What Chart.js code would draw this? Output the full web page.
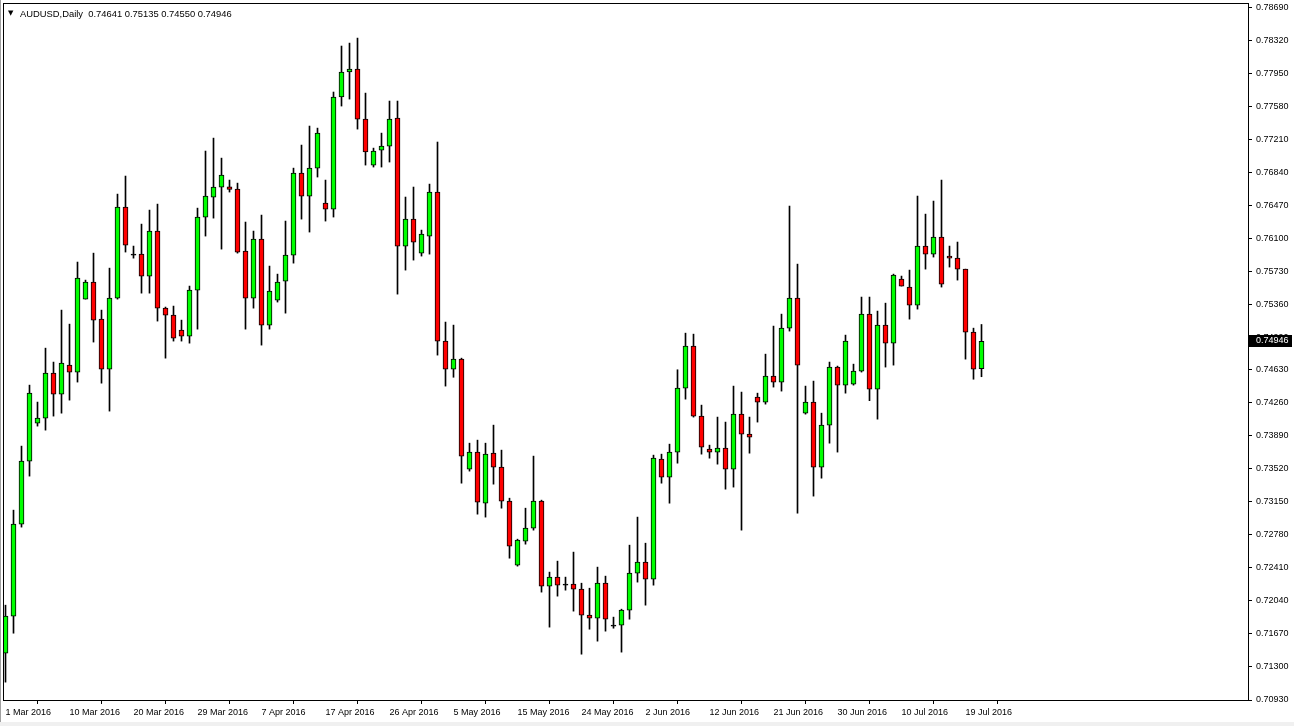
<!DOCTYPE html>
<html><head><meta charset="utf-8">
<script src="https://cdn.jsdelivr.net/npm/chart.js@4.4.1/dist/chart.umd.min.js"></script>
<style>
html,body{margin:0;padding:0;background:#fff;}
#wrap{position:relative;width:1294px;height:726px;overflow:hidden;background:#fff;}
canvas{position:absolute;left:0;top:0;}
#tri{position:absolute;left:8px;top:8px;font:7px "DejaVu Sans",sans-serif;line-height:11px;color:#000;}
#title{position:absolute;left:20px;top:8px;font:9.4px "Liberation Sans",Arial,sans-serif;line-height:11px;color:#000;white-space:pre;}
#edgeL{position:absolute;left:0;top:0;width:1px;height:726px;background:#a0a0a0;}
#edgeB{position:absolute;left:0;top:722px;width:1294px;height:4px;background:#f0f0f0;}
</style></head><body>
<div id="wrap"><canvas id="c" width="1294" height="726"></canvas><div id="tri">▼</div><div id="title"></div><div id="edgeL"></div><div id="edgeB"></div></div>
<script>
const symbolName = 'AUDUSD,Daily';
const dates = [
'1 Mar 2016','2 Mar 2016','3 Mar 2016','4 Mar 2016','6 Mar 2016','7 Mar 2016','8 Mar 2016','9 Mar 2016','10 Mar 2016','11 Mar 2016',
'13 Mar 2016','14 Mar 2016','15 Mar 2016','16 Mar 2016','17 Mar 2016','18 Mar 2016','20 Mar 2016','21 Mar 2016','22 Mar 2016','23 Mar 2016',
'24 Mar 2016','25 Mar 2016','27 Mar 2016','28 Mar 2016','29 Mar 2016','30 Mar 2016','31 Mar 2016',
'1 Apr 2016','3 Apr 2016','4 Apr 2016','5 Apr 2016','6 Apr 2016','7 Apr 2016','8 Apr 2016','10 Apr 2016','11 Apr 2016','12 Apr 2016',
'13 Apr 2016','14 Apr 2016','15 Apr 2016','17 Apr 2016','18 Apr 2016','19 Apr 2016','20 Apr 2016','21 Apr 2016','22 Apr 2016','24 Apr 2016',
'25 Apr 2016','26 Apr 2016','27 Apr 2016','28 Apr 2016','29 Apr 2016',
'1 May 2016','2 May 2016','3 May 2016','4 May 2016','5 May 2016','6 May 2016','8 May 2016','9 May 2016','10 May 2016','11 May 2016',
'12 May 2016','13 May 2016','15 May 2016','16 May 2016','17 May 2016','18 May 2016','19 May 2016','20 May 2016','22 May 2016','23 May 2016',
'24 May 2016','25 May 2016','26 May 2016','27 May 2016','29 May 2016','30 May 2016','31 May 2016',
'1 Jun 2016','2 Jun 2016','3 Jun 2016','5 Jun 2016','6 Jun 2016','7 Jun 2016','8 Jun 2016','9 Jun 2016','10 Jun 2016','12 Jun 2016',
'13 Jun 2016','14 Jun 2016','15 Jun 2016','16 Jun 2016','17 Jun 2016','19 Jun 2016','20 Jun 2016','21 Jun 2016','22 Jun 2016','23 Jun 2016',
'24 Jun 2016','26 Jun 2016','27 Jun 2016','28 Jun 2016','29 Jun 2016','30 Jun 2016',
'1 Jul 2016','3 Jul 2016','4 Jul 2016','5 Jul 2016','6 Jul 2016','7 Jul 2016','8 Jul 2016','10 Jul 2016','11 Jul 2016','12 Jul 2016',
'13 Jul 2016','14 Jul 2016','15 Jul 2016','17 Jul 2016','18 Jul 2016','19 Jul 2016','20 Jul 2016','21 Jul 2016'
];
const openP = [
0.71454,0.71869,0.72899,0.73605,0.74030,0.74086,0.74590,0.74355,0.74680,0.74602,
0.75419,0.75610,0.75195,0.74635,0.75430,0.76450,0.75912,0.75923,0.75677,0.76181,
0.75318,0.75240,0.75072,0.75005,0.75520,0.76338,0.76562,0.76674,0.76677,0.76651,
0.75957,0.75430,0.76091,0.75128,0.75408,0.75621,0.75912,0.76830,0.76573,0.76886,
0.76494,0.76427,0.77682,0.77962,0.77995,0.77435,0.76920,0.77088,0.77133,0.77446,
0.76013,0.76315,0.75934,0.76125,0.76618,0.74949,0.74635,0.74747,0.73515,0.73706,
0.73134,0.73694,0.73538,0.73157,0.72440,0.72709,0.72855,0.73157,0.72205,0.72306,
0.72216,0.72227,0.72171,0.71880,0.71846,0.72238,0.71757,0.71768,0.71936,0.72350,
0.72474,0.72283,0.73627,0.73426,0.73706,0.74422,0.74893,0.74109,0.73739,0.73706,
0.73750,0.73515,0.74131,0.73907,0.74322,0.74266,0.74557,0.74490,0.75094,0.75430,
0.74142,0.74266,0.73538,0.74008,0.74658,0.74456,0.74467,0.74613,0.75251,0.74411,
0.75128,0.74926,0.75643,0.75554,0.75352,0.76013,0.75923,0.76114,0.75901,0.75878,
0.75755,0.75050,0.74641
];
const highP = [
0.71992,0.73056,0.73773,0.74456,0.74266,0.74870,0.74714,0.75296,0.75139,0.75834,
0.75632,0.75934,0.75296,0.75766,0.76595,0.76797,0.76013,0.76259,0.76416,0.76483,
0.75330,0.75341,0.75184,0.75565,0.76438,0.77077,0.77222,0.76998,0.76752,0.76718,
0.76282,0.76181,0.76360,0.75789,0.75699,0.76293,0.76886,0.77144,0.77357,0.77334,
0.76752,0.77738,0.78253,0.78286,0.78342,0.77726,0.77110,0.77278,0.77637,0.77637,
0.76562,0.76674,0.76192,0.76707,0.77178,0.75162,0.75128,0.74758,0.73806,0.73840,
0.73806,0.74008,0.73728,0.73190,0.72731,0.73078,0.73661,0.73168,0.72362,0.72485,
0.72306,0.72586,0.72238,0.72182,0.72418,0.72317,0.71858,0.71947,0.72664,0.72978,
0.72686,0.73672,0.73683,0.73795,0.74628,0.75038,0.75027,0.74232,0.73784,0.74098,
0.74042,0.74445,0.74378,0.74098,0.74366,0.74803,0.75117,0.75251,0.76461,0.75811,
0.74445,0.74501,0.74142,0.74714,0.74669,0.75016,0.74691,0.75442,0.75442,0.75285,
0.75374,0.75699,0.75677,0.75744,0.76573,0.76371,0.76517,0.76752,0.76013,0.76058,
0.75755,0.75094,0.75135
];
const lowP = [
0.71130,0.71678,0.72866,0.73437,0.73997,0.73952,0.74109,0.74142,0.74288,0.74490,
0.75419,0.74938,0.74478,0.74165,0.75419,0.75946,0.75878,0.75486,0.75486,0.75173,
0.74758,0.74949,0.74949,0.74926,0.75083,0.76125,0.76326,0.75979,0.76618,0.75934,
0.75083,0.75318,0.74904,0.75083,0.75386,0.75262,0.75822,0.76315,0.76170,0.76786,
0.76293,0.76338,0.77581,0.77659,0.77323,0.76920,0.76898,0.76898,0.76954,0.75475,
0.75744,0.75856,0.75901,0.75923,0.74792,0.74445,0.74544,0.73358,0.73493,0.73011,
0.72978,0.73347,0.73078,0.72518,0.72429,0.72675,0.72832,0.72138,0.71746,0.72093,
0.72160,0.71925,0.71443,0.71723,0.71589,0.71701,0.71734,0.71466,0.71835,0.72250,
0.71992,0.72216,0.73358,0.73134,0.73582,0.74299,0.74098,0.73683,0.73638,0.73571,
0.73291,0.73314,0.72832,0.73694,0.74042,0.74243,0.74434,0.74389,0.75061,0.73022,
0.74131,0.73213,0.73414,0.73806,0.73706,0.74366,0.74456,0.74602,0.74282,0.74075,
0.74658,0.74680,0.75565,0.75195,0.75307,0.75755,0.75890,0.75554,0.75778,0.75632,
0.74747,0.74522,0.74550
];
const closeP = [
0.71869,0.72899,0.73605,0.74366,0.74086,0.74590,0.74355,0.74702,0.74602,0.75654,
0.75610,0.75184,0.74635,0.75430,0.76450,0.76024,0.75912,0.75677,0.76181,0.75318,
0.75240,0.74982,0.75005,0.75520,0.76338,0.76573,0.76674,0.76808,0.76648,0.75946,
0.75430,0.76091,0.75128,0.75509,0.75610,0.75912,0.76830,0.76573,0.76886,0.77278,
0.76427,0.77682,0.77962,0.77995,0.77435,0.77066,0.77077,0.77133,0.77435,0.76013,
0.76315,0.76058,0.76147,0.76618,0.74949,0.74635,0.74747,0.73661,0.73706,0.73146,
0.73683,0.73538,0.73157,0.72653,0.72720,0.72855,0.73157,0.72205,0.72306,0.72216,
0.72216,0.72171,0.71880,0.71846,0.72238,0.71835,0.71757,0.71936,0.72350,0.72474,
0.72283,0.73638,0.73426,0.73706,0.74422,0.74893,0.74109,0.73762,0.73706,0.73750,
0.73515,0.74131,0.73907,0.73872,0.74266,0.74557,0.74490,0.75094,0.75430,0.74680,
0.74266,0.73538,0.74008,0.74658,0.74456,0.74949,0.74613,0.75251,0.74411,0.75128,
0.74926,0.75688,0.75565,0.75352,0.76013,0.75923,0.76114,0.75587,0.75878,0.75755,
0.75050,0.74635,0.74946
];
const xTickLabels = ['1 Mar 2016','10 Mar 2016','20 Mar 2016','29 Mar 2016','7 Apr 2016','17 Apr 2016','26 Apr 2016','5 May 2016',
'15 May 2016','24 May 2016','2 Jun 2016','12 Jun 2016','21 Jun 2016','30 Jun 2016','10 Jul 2016','19 Jul 2016'];
const yTickLabels = ['0.78690','0.78320','0.77950','0.77580','0.77210','0.76840','0.76470','0.76100','0.75730','0.75360','0.74990',
'0.74630','0.74260','0.73890','0.73520','0.73150','0.72780','0.72410','0.72040','0.71670','0.71300','0.70930'];

const last = dates.length - 1;
document.getElementById('title').textContent = symbolName + '  ' +
  [openP[last], highP[last], lowP[last], closeP[last]].map(v => v.toFixed(5)).join(' ');

const FONT = {family: "'Liberation Sans', Arial, sans-serif", size: 9};
const bodyData = dates.map((d, i) => ({x: i, y: [openP[i], closeP[i]]}));
const wickData = dates.map((d, i) => ({x: i, y: [lowP[i], highP[i]]}));
const bodyColors = dates.map((d, i) => closeP[i] > openP[i] ? '#00ff00' : (closeP[i] < openP[i] ? '#ff0000' : '#000000'));

const framePlugin = {
  id: 'frame',
  afterDraw(chart) {
    const {ctx, chartArea: a} = chart;
    ctx.save();
    ctx.strokeStyle = '#000';
    ctx.lineWidth = 1;
    ctx.strokeRect(a.left + 0.5, a.top + 0.5, a.right - a.left, a.bottom - a.top);
    const y = Math.round(chart.scales.y.getPixelForValue(closeP[last]));
    ctx.fillStyle = '#000';
    ctx.fillRect(a.right + 1, y - 6, 43, 12);
    ctx.fillStyle = '#fff';
    ctx.font = "9px 'Liberation Sans', Arial, sans-serif";
    ctx.textBaseline = 'middle';
    ctx.textAlign = 'left';
    ctx.fillText(closeP[last].toFixed(5), a.right + 8, y);
    ctx.restore();
  }
};

new Chart(document.getElementById('c'), {
  type: 'bar',
  data: {
    datasets: [
      {label: 'body', data: bodyData, backgroundColor: bodyColors, borderColor: '#000', borderWidth: 1,
       borderSkipped: false, barThickness: 5, minBarLength: 1, grouped: false, order: 0},
      {label: 'wick', data: wickData, backgroundColor: '#000', borderWidth: 0,
       barThickness: 1, grouped: false, order: 1}
    ]
  },
  options: {
    responsive: false, animation: false, devicePixelRatio: 1,
    layout: {padding: {left: 3, top: 3, right: 0, bottom: 0}},
    plugins: {legend: {display: false}, tooltip: {enabled: false}},
    scales: {
      x: {
        type: 'linear', position: 'bottom', min: -0.3125, max: 155.3125, offset: false,
        afterBuildTicks: ax => { ax.ticks = xTickLabels.map(l => ({value: dates.indexOf(l)})); },
        afterFit: ax => { ax.height = 26; ax.paddingLeft = 0; ax.paddingRight = 0; },
        ticks: {autoSkip: false, maxRotation: 0, minRotation: 0, align: 'start', padding: 3, color: '#000', font: FONT,
                callback: v => dates[v]},
        grid: {drawOnChartArea: false, drawTicks: true, tickLength: 4, tickColor: '#000', color: '#000'},
        border: {display: true, color: '#000', width: 1}
      },
      y: {
        type: 'linear', position: 'right', min: 0.7093, max: 0.78735, bounds: 'data',
        afterBuildTicks: ax => { ax.ticks = yTickLabels.map(s => ({value: parseFloat(s)})); },
        afterFit: ax => { ax.width = 46; ax.paddingTop = 0; ax.paddingBottom = 0; },
        ticks: {autoSkip: false, padding: 4, color: '#000', font: FONT, callback: (v, i) => yTickLabels[i]},
        grid: {drawOnChartArea: false, drawTicks: true, tickLength: 4, tickColor: '#000', color: '#000'},
        border: {display: true, color: '#000', width: 1}
      }
    }
  },
  plugins: [framePlugin]
});
</script>
</body></html>
